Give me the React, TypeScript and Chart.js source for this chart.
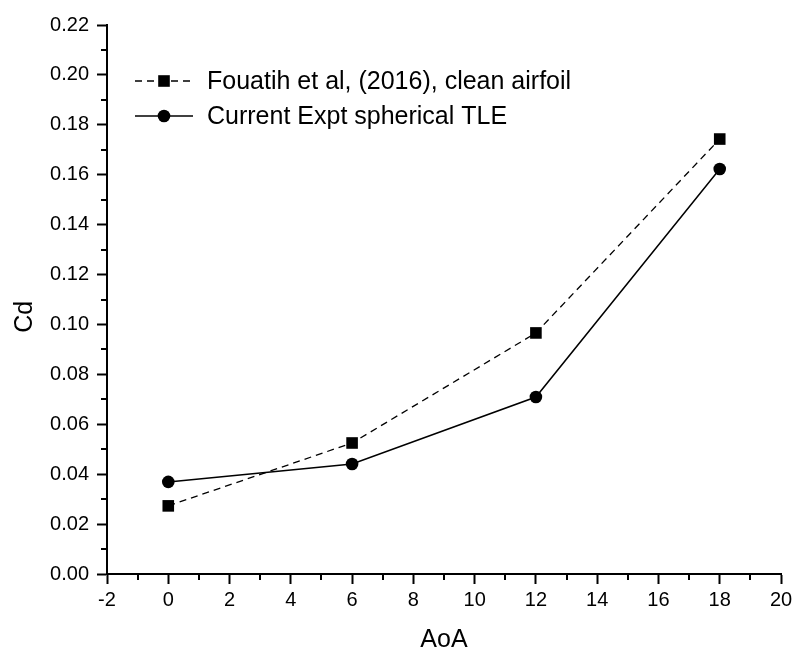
import React, { useEffect, useRef } from "react";
import { Chart, registerables } from "chart.js";

Chart.register(...registerables);

const aoa = [0, 6, 12, 18];
const fouatihCd = [0.0273, 0.0525, 0.0966, 0.1743];
const currentCd = [0.0369, 0.0441, 0.0709, 0.1623];
const seriesLabels = ["Fouatih et al, (2016), clean airfoil", "Current Expt spherical TLE"];
const xTitle = "AoA";
const yTitle = "Cd";

const FONT = "'Liberation Sans', Arial, Helvetica, sans-serif";

const minorTicksPlugin = {
  id: "minorTicks",
  afterDraw(chart: any) {
    const ctx = chart.ctx;
    const xs = chart.scales.x;
    const ys = chart.scales.y;
    ctx.save();
    ctx.strokeStyle = "#000";
    ctx.lineWidth = 2;
    const len = 6;
    for (let v = xs.min + 1; v < xs.max; v += 2) {
      const px = Math.round(xs.getPixelForValue(v));
      ctx.beginPath();
      ctx.moveTo(px, ys.bottom);
      ctx.lineTo(px, ys.bottom + len);
      ctx.stroke();
    }
    for (let i = 1; i < 22; i += 2) {
      const v = i * 0.01;
      const py = Math.round(ys.getPixelForValue(v));
      ctx.beginPath();
      ctx.moveTo(xs.left, py);
      ctx.lineTo(xs.left - len, py);
      ctx.stroke();
    }
    ctx.restore();
  },
};

const legendPlugin = {
  id: "customLegend",
  afterDraw(chart: any) {
    const ctx = chart.ctx;
    const area = chart.chartArea;
    const x0 = area.left + 28;
    const x1 = area.left + 86;
    const xm = area.left + 57;
    const textX = area.left + 100;
    const rows = [area.top + 56, area.top + 91];
    ctx.save();
    chart.data.datasets.forEach((ds: any, i: number) => {
      const y = rows[i];
      ctx.strokeStyle = "#000";
      ctx.lineWidth = ds.borderWidth;
      ctx.setLineDash(ds.borderDash || []);
      ctx.beginPath();
      ctx.moveTo(x0, y);
      ctx.lineTo(x1, y);
      ctx.stroke();
      ctx.setLineDash([]);
      ctx.fillStyle = "#000";
      if (ds.pointStyle === "rect") {
        const s = 5.8;
        ctx.fillRect(xm - s, y - s, 2 * s, 2 * s);
      } else {
        ctx.beginPath();
        ctx.arc(xm, y, 6.3, 0, Math.PI * 2);
        ctx.fill();
      }
      ctx.font = `25px ${FONT}`;
      ctx.textBaseline = "middle";
      ctx.textAlign = "left";
      ctx.fillText(ds.label, textX, y + 1);
    });
    ctx.restore();
  },
};

export default function App() {
  const ref = useRef<HTMLCanvasElement>(null);
  useEffect(() => {
    if (!ref.current) return;
    const chart = new Chart(ref.current, {
      type: "line",
      data: {
        datasets: [
          {
            label: seriesLabels[0],
            data: aoa.map((x, i) => ({ x, y: fouatihCd[i] })),
            borderColor: "#000",
            backgroundColor: "#000",
            borderWidth: 1.3,
            borderDash: [7, 5],
            pointStyle: "rect",
            pointRadius: 8.2,
            pointBorderWidth: 0,
            pointBackgroundColor: "#000",
            tension: 0,
          },
          {
            label: seriesLabels[1],
            data: aoa.map((x, i) => ({ x, y: currentCd[i] })),
            borderColor: "#000",
            backgroundColor: "#000",
            borderWidth: 1.5,
            pointStyle: "circle",
            pointRadius: 6.3,
            pointBorderWidth: 0,
            pointBackgroundColor: "#000",
            tension: 0,
          },
        ],
      },
      options: {
        animation: false,
        responsive: false,
        devicePixelRatio: 1,
        layout: { padding: { top: 25, right: 19, bottom: 0, left: 0 } },
        plugins: { legend: { display: false }, tooltip: { enabled: false } },
        scales: {
          x: {
            type: "linear",
            min: -2,
            max: 20,
            afterFit: (s: any) => {
              s.height = 81;
            },
            ticks: {
              stepSize: 2,
              color: "#000",
              padding: 4,
              font: { family: FONT, size: 20 },
            },
            grid: {
              drawOnChartArea: false,
              drawTicks: true,
              tickLength: 10,
              tickWidth: 2,
              tickColor: "#000",
            },
            border: { display: true, color: "#000", width: 2 },
            title: {
              display: true,
              text: xTitle,
              color: "#000",
              font: { family: FONT, size: 25 },
              padding: { top: 0, bottom: 0 },
            },
          },
          y: {
            type: "linear",
            min: 0,
            max: 0.22,
            afterFit: (s: any) => {
              s.width = 107;
            },
            ticks: {
              stepSize: 0.02,
              color: "#000",
              padding: 8,
              font: { family: FONT, size: 20 },
              callback: (v: any) => Number(v).toFixed(2),
            },
            grid: {
              drawOnChartArea: false,
              drawTicks: true,
              tickLength: 10,
              tickWidth: 2,
              tickColor: "#000",
            },
            border: { display: true, color: "#000", width: 2 },
            title: {
              display: true,
              text: yTitle + "     ",
              color: "#000",
              font: { family: FONT, size: 25 },
              padding: { top: 10, bottom: 0 },
            },
          },
        },
      },
      plugins: [minorTicksPlugin, legendPlugin],
    });
    return () => chart.destroy();
  }, []);
  return (
    <div style={{ position: "absolute", left: 0, top: 0, width: 800, height: 655, background: "#fff" }}>
      <canvas ref={ref} width={800} height={655} style={{ width: 800, height: 655 }} />
    </div>
  );
}
